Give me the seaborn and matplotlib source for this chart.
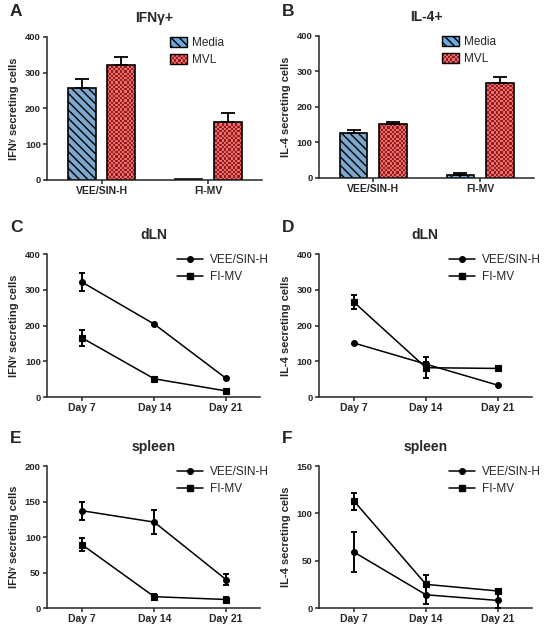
import numpy as np
import pandas as pd
import seaborn as sns
import matplotlib.pyplot as plt
from matplotlib.patches import Patch, Rectangle
from matplotlib.lines import Line2D
from matplotlib.legend_handler import HandlerBase

# ---- bar panels (A, B) ----
groups = ["VEE/SIN-H", "FI-MV"]
stims = ["Media", "MVL"]
ifng_media = [256, 2]
ifng_media_err = [27, 0]
ifng_mvl = [321, 163]
ifng_mvl_err = [24, 23]
il4_media = [128, 9]
il4_media_err = [7, 4]
il4_mvl = [153, 267]
il4_mvl_err = [4, 18]

# ---- time course panels (C-F) ----
days = ["Day 7", "Day 14", "Day 21"]
vaccines = ["VEE/SIN-H", "FI-MV"]
dln_ifng_vee = [321, 204, 52]
dln_ifng_vee_err = [25, 0, 0]
dln_ifng_fimv = [165, 51, 17]
dln_ifng_fimv_err = [23, 0, 0]
dln_il4_vee = [151, 92, 33]
dln_il4_vee_err = [0, 6, 0]
dln_il4_fimv = [265, 82, 80]
dln_il4_fimv_err = [19, 29, 0]
spl_ifng_vee = [137, 121, 40]
spl_ifng_vee_err = [13, 17, 8]
spl_ifng_fimv = [89, 16, 12]
spl_ifng_fimv_err = [9, 4, 4]
spl_il4_vee = [59, 14, 8]
spl_il4_vee_err = [21, 10, 8]
spl_il4_fimv = [113, 25, 18]
spl_il4_fimv_err = [9, 10, 2]

BLUE = "#6ea7dc"
CHECK_DARK = np.array([0.60, 0.10, 0.12])
CHECK_LIGHT = np.array([0.91, 0.44, 0.42])

sns.set_theme(style="ticks")
plt.rcParams["font.family"] = ["Liberation Sans", "DejaVu Sans"]
plt.rcParams["hatch.linewidth"] = 1.0
plt.rcParams["axes.linewidth"] = 1.1


class CheckerHandler(HandlerBase):
    # draws a small checkerboard swatch for the MVL legend entry
    def create_artists(self, legend, orig_handle, xdescent, ydescent,
                       width, height, fontsize, trans):
        x0, y0 = -xdescent, -ydescent
        arts = [Rectangle((x0, y0), width, height, facecolor=CHECK_LIGHT,
                          edgecolor="none", transform=trans)]
        nx, ny = 8, 4
        cw, ch = width / nx, height / ny
        for i in range(nx):
            for j in range(ny):
                if (i + j) % 2:
                    arts.append(Rectangle((x0 + i * cw, y0 + j * ch), cw, ch,
                                          facecolor=CHECK_DARK, edgecolor="none",
                                          transform=trans))
        arts.append(Rectangle((x0, y0), width, height, facecolor="none",
                              edgecolor="black", lw=1.0, transform=trans))
        return arts


def style_axis(ax, ylabel, title, ymax, step):
    ax.set_ylim(0, ymax)
    ax.set_yticks(np.arange(0, ymax + 1, step))
    sns.despine(ax=ax)
    ax.tick_params(axis="both", direction="out", length=3, width=1.1, pad=1.5)
    ax.tick_params(axis="y", labelsize=6.8)
    ax.tick_params(axis="x", labelsize=7.5)
    for lab in ax.get_xticklabels() + ax.get_yticklabels():
        lab.set_fontweight("bold")
    ax.set_xlabel("")
    ax.set_ylabel(ylabel, fontsize=8, fontweight="bold")
    ax.yaxis.set_label_coords(-0.13, 0.5)
    ax.set_title(title, fontsize=10, fontweight="bold", pad=11)


def bar_panel(ax, media, media_err, mvl, mvl_err, ylabel, title):
    df = pd.DataFrame({"group": groups * 2,
                       "stim": [stims[0]] * 2 + [stims[1]] * 2,
                       "cells": media + mvl})
    sns.barplot(data=df, x="group", y="cells", hue="stim", order=groups,
                hue_order=stims, palette=[BLUE, CHECK_LIGHT], width=0.74,
                gap=0.3, errorbar=None, edgecolor="black", linewidth=1.2,
                legend=False, ax=ax)
    ax.set_xlim(-0.51, 1.5)
    style_axis(ax, ylabel, title, 400, 100)

    media_bars, mvl_bars = ax.containers[0], ax.containers[1]
    for bar in media_bars:
        bar.set_hatch("\\\\\\\\")

    # checkerboard fill clipped to each MVL bar
    x0, x1 = ax.get_xlim()
    y0, y1 = ax.get_ylim()
    bb = ax.get_window_extent()
    nx, ny = int(bb.width / 2.2), int(bb.height / 2.2)
    yy, xx = np.indices((ny, nx))
    img = np.where(((xx + yy) % 2)[..., None] == 1, CHECK_DARK, CHECK_LIGHT)
    for bar in mvl_bars:
        im = ax.imshow(img, extent=(x0, x1, y0, y1), origin="lower",
                       aspect="auto", interpolation="nearest", zorder=0.9)
        im.set_clip_path(bar)
        bar.set_facecolor("none")
    ax.set_xlim(x0, x1)
    ax.set_ylim(y0, y1)

    for bars, vals, errs in [(media_bars, media, media_err), (mvl_bars, mvl, mvl_err)]:
        xs = np.array([b.get_x() + b.get_width() / 2 for b in bars])
        e = np.asarray(errs, float)
        keep = e > 0
        ax.errorbar(xs[keep], np.asarray(vals, float)[keep],
                    yerr=[np.zeros(keep.sum()), e[keep]], fmt="none",
                    ecolor="black", elinewidth=1.3, capsize=5, capthick=1.3,
                    zorder=3)

    h_media = Patch(facecolor=BLUE, edgecolor="black", hatch="\\\\\\\\", lw=1.0)
    h_mvl = Patch(facecolor=CHECK_LIGHT)
    ax.legend([h_media, h_mvl], stims, handler_map={h_mvl: CheckerHandler()},
              loc="upper left", bbox_to_anchor=(0.572, 1.0), frameon=False,
              fontsize=8.5, handlelength=1.45, handleheight=0.9,
              handletextpad=0.45, labelspacing=0.45, borderpad=0,
              borderaxespad=0)


def line_panel(ax, vee, vee_err, fimv, fimv_err, ylabel, title, ymax, step):
    df = pd.DataFrame({"day": days * 2,
                       "vaccine": [vaccines[0]] * 3 + [vaccines[1]] * 3,
                       "cells": vee + fimv})
    sns.pointplot(data=df, x="day", y="cells", hue="vaccine", order=days,
                  hue_order=vaccines, palette=["black", "black"],
                  markers=["o", "s"], linestyles=["-", "-"], errorbar=None,
                  legend=False, markersize=4.2, linewidth=1.1, ax=ax)
    for line, err in zip(ax.lines[:2], [vee_err, fimv_err]):
        x = np.asarray(line.get_xdata(), float)
        y = np.asarray(line.get_ydata(), float)
        e = np.asarray(err, float)
        keep = e > 0
        ax.errorbar(x[keep], y[keep], yerr=e[keep], fmt="none", ecolor="black",
                    elinewidth=1.4, capsize=2.5, capthick=1.4, zorder=3)
    ax.set_xlim(-0.49, 2.47)
    style_axis(ax, ylabel, title, ymax, step)
    handles = [Line2D([], [], color="black", marker="o", markersize=4, lw=1.1),
               Line2D([], [], color="black", marker="s", markersize=4, lw=1.1)]
    ax.legend(handles, vaccines, loc="upper left", bbox_to_anchor=(0.61, 1.0),
              frameon=False, fontsize=8.5, handlelength=2.2,
              handletextpad=0.6, labelspacing=0.45, borderpad=0,
              borderaxespad=0)


fig = plt.figure(figsize=(5.44, 6.28), dpi=100)
axA = fig.add_axes([0.0864, 0.7134, 0.395, 0.2277])
axB = fig.add_axes([0.586, 0.7166, 0.395, 0.2261])
axC = fig.add_axes([0.0864, 0.3678, 0.3915, 0.2277])
axD = fig.add_axes([0.586, 0.3678, 0.3915, 0.2277])
axE = fig.add_axes([0.0864, 0.0318, 0.3915, 0.2261])
axF = fig.add_axes([0.586, 0.0318, 0.3915, 0.2261])

ifng_label = "IFNᵞ secreting cells"
il4_label = "IL-4 secreting cells"

bar_panel(axA, ifng_media, ifng_media_err, ifng_mvl, ifng_mvl_err, ifng_label, "IFNγ+")
bar_panel(axB, il4_media, il4_media_err, il4_mvl, il4_mvl_err, il4_label, "IL-4+")
line_panel(axC, dln_ifng_vee, dln_ifng_vee_err, dln_ifng_fimv, dln_ifng_fimv_err,
           ifng_label, "dLN", 400, 100)
line_panel(axD, dln_il4_vee, dln_il4_vee_err, dln_il4_fimv, dln_il4_fimv_err,
           il4_label, "dLN", 400, 100)
line_panel(axE, spl_ifng_vee, spl_ifng_vee_err, spl_ifng_fimv, spl_ifng_fimv_err,
           ifng_label, "spleen", 200, 50)
line_panel(axF, spl_il4_vee, spl_il4_vee_err, spl_il4_fimv, spl_il4_fimv_err,
           il4_label, "spleen", 150, 50)

for letter, x, y in [("A", 0.018, 0.981), ("B", 0.518, 0.981),
                     ("C", 0.018, 0.637), ("D", 0.518, 0.637),
                     ("E", 0.018, 0.301), ("F", 0.518, 0.301)]:
    fig.text(x, y, letter, fontsize=12.5, fontweight="bold", ha="left", va="center")

fig.savefig("out.png", dpi=100)
